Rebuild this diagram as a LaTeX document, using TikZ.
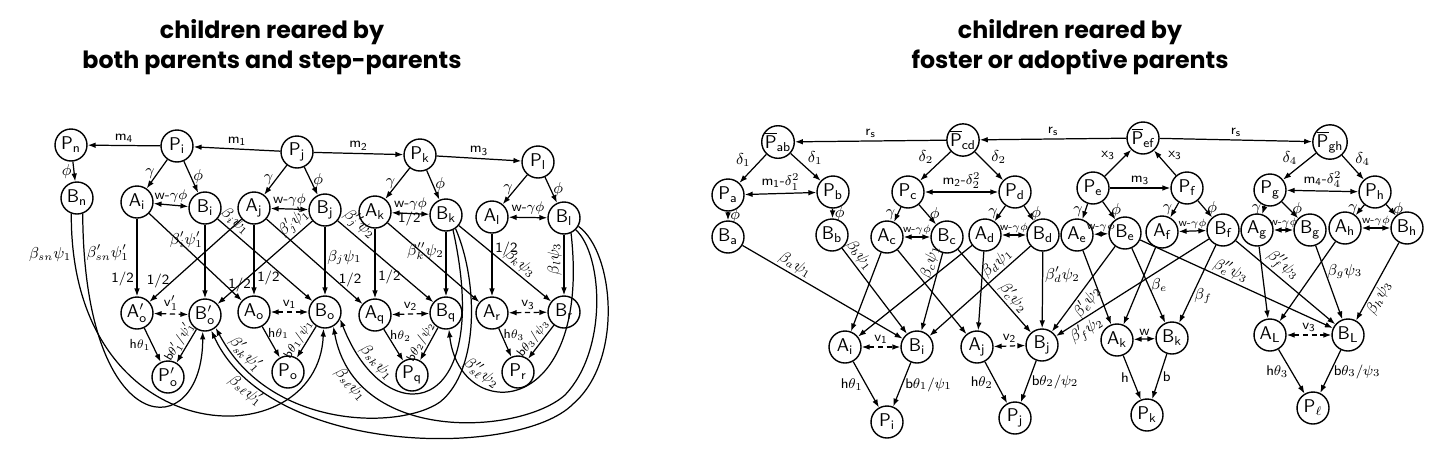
\documentclass[tikz,border=0pt]{standalone}
\usepackage{fontspec}
\newfontfamily\titlefont{Poppins}
\usetikzlibrary{arrows.meta}
\newcommand\sbs[1]{$_{\mathsf{#1}}$}
\newcommand\barP[1]{$\overline{\mathsf P}_{\mathsf{#1}}$}
\begin{document}
\begin{tikzpicture}[x=0.02cm,y=-0.02cm,
  nd/.style={circle,draw,line width=0.8pt,minimum size=0.64cm,inner sep=0pt,font=\sffamily\fontsize{10.5}{12}\selectfont},
  ar/.style={line width=0.7pt,-{Latex[length=4.5pt,width=3.2pt]}},
  dar/.style={line width=0.7pt,{Latex[length=4.5pt,width=3.2pt]}-{Latex[length=4.5pt,width=3.2pt]}},
  ddar/.style={dar,dash pattern=on 3pt off 2pt},
  lb/.style={font=\sffamily\fontsize{8}{9}\selectfont,inner sep=1.5pt},
  hl/.style={font=\sffamily\fontsize{7.5}{8}\selectfont,inner sep=0.8pt},
  sl/.style={font=\sffamily\fontsize{7}{8}\selectfont,inner sep=0.8pt},
  wl/.style={font=\sffamily\fontsize{6.5}{7}\selectfont,inner sep=1pt},
  bl/.style={font=\fontsize{9}{10}\selectfont,inner sep=1pt},
  ttl/.style={font=\titlefont\bfseries\fontsize{13.5}{17}\selectfont,align=center}
]
\useasboundingbox (0,0) rectangle (1456,468);
\node[ttl] (t1) at (272,47) {children reared by\\both parents and step-parents};
\node[ttl] (t2) at (1070,47) {children reared by\\foster or adoptive parents};

% ---------------- left diagram ----------------
\node[nd] (Pn) at (71,145) {P\sbs{n}};
\node[nd] (Pi) at (177,146) {P\sbs{i}};
\node[nd] (Pj) at (297,152) {P\sbs{j}};
\node[nd] (Pk) at (420,155) {P\sbs{k}};
\node[nd] (Pl) at (538,162) {P\sbs{l}};
\node[nd] (Bn) at (77,198) {B\sbs{n}};
\node[nd] (Ai) at (137,202) {A\sbs{i}};
\node[nd] (Bi) at (205,208) {B\sbs{i}};
\node[nd] (Aj) at (254,208) {A\sbs{j}};
\node[nd] (Bj) at (325,210) {B\sbs{j}};
\node[nd] (Ak) at (375,212) {A\sbs{k}};
\node[nd] (Bk) at (446,215) {B\sbs{k}};
\node[nd] (Al) at (492,217) {A\sbs{l}};
\node[nd] (Bl) at (564,218) {B\sbs{l}};
\node[nd] (Aop) at (137,313) {A$'_{\mathsf o}$};
\node[nd] (Bop) at (205,315) {B$'_{\mathsf o}$};
\node[nd] (Ao) at (254,312) {A\sbs{o}};
\node[nd] (Bo) at (325,312) {B\sbs{o}};
\node[nd] (Aq) at (375,315) {A\sbs{q}};
\node[nd] (Bq) at (446,313) {B\sbs{q}};
\node[nd] (Ar) at (492,313) {A\sbs{r}};
\node[nd] (Br) at (564,312) {B\sbs{r}};
\node[nd] (Pop) at (168,377) {P$'_{\mathsf o}$};
\node[nd] (Po) at (288,372) {P\sbs{o}};
\node[nd] (Pq) at (412,375) {P\sbs{q}};
\node[nd] (Pr) at (518,372) {P\sbs{r}};

\draw[ar] (Pi) -- node[lb,above]{m\sbs{4}} (Pn);
\draw[ar] (Pj) -- node[lb,above]{m\sbs{1}} (Pi);
\draw[ar] (Pj) -- node[lb,above]{m\sbs{2}} (Pk);
\draw[ar] (Pk) -- node[lb,above]{m\sbs{3}} (Pl);
\draw[ar] (Pn) -- node[bl,left]{$\phi$} (Bn);
\foreach \p/\a/\b in {Pi/Ai/Bi,Pj/Aj/Bj,Pk/Ak/Bk,Pl/Al/Bl}{
  \draw[ar] (\p) -- node[bl,left]{$\gamma$} (\a);
  \draw[ar] (\p) -- node[bl,right]{$\phi$} (\b);
  \draw[dar] (\a) -- node[lb,above]{w-$\gamma\phi$} (\b);
}
% A lines
\draw[ar] (Ai) -- node[lb,pos=0.78,left]{1/2} (Aop);
\draw[ar] (Ai) -- node[lb,pos=0.82,right]{1/2} (Ao);
\draw[ar] (Aj) -- node[lb,pos=0.75,left]{1/2} (Aop);
\draw[ar] (Aj) -- node[lb,pos=0.75,right]{1/2} (Ao);
\draw[ar] (Aj) -- node[lb,pos=0.72,right]{1/2} (Aq);
\draw[ar] (Ak) -- node[lb,pos=0.7,right]{1/2} (Aq);
\draw[ar] (Ak) -- node[lb,pos=0.08,anchor=south west]{1/2} (Ar);
\draw[ar] (Al) -- node[lb,pos=0.25,right]{1/2} (Ar);
% B lines
\draw[ar] (Bi) -- node[bl,pos=0.2,left]{$\beta'_i\psi'_1$} (Bop);
\draw[ar] (Bi) -- node[bl,pos=0.12,sloped,above]{$\beta_i\psi_1$} (Bo);
\draw[ar] (Bj) -- node[bl,pos=0.12,sloped,above]{$\beta'_j\psi'_1$} (Bop);
\draw[ar] (Bj) -- node[bl,pos=0.45,right]{$\beta_j\psi_1$} (Bo);
\draw[ar] (Bj) -- node[bl,pos=0.15,sloped,above]{$\beta''_j\psi_2$} (Bq);
\draw[ar] (Bk) -- node[bl,pos=0.3,left]{$\beta''_k\psi_2$} (Bq);
\draw[ar] (Bk) -- node[bl,pos=0.6,sloped,above]{$\beta_k\psi_3$} (Br);
\draw[ar] (Bl) -- node[bl,pos=0.4,rotate=90,anchor=south]{$\beta_l\psi_3$} (Br);
% bottom triangles
\draw[ddar] (Aop) -- node[lb,above]{v$'_1$} (Bop);
\draw[ar] (Aop) -- node[hl,left]{h$\theta_1$} (Pop);
\draw[ar] (Bop) -- node[sl,sloped,above]{b$\theta'_1/\psi'_1$} (Pop);
\draw[ddar] (Ao) -- node[lb,above]{v\sbs{1}} (Bo);
\draw[ar] (Ao) -- node[hl,right,pos=0.22]{h$\theta_1$} (Po);
\draw[ar] (Bo) -- node[sl,sloped,above,pos=0.55]{b$\theta_1/\psi_1$} (Po);
\draw[ddar] (Aq) -- node[lb,above]{v\sbs{2}} (Bq);
\draw[ar] (Aq) -- node[hl,right,pos=0.22]{h$\theta_2$} (Pq);
\draw[ar] (Bq) -- node[sl,sloped,above,pos=0.55]{b$\theta_2/\psi_2$} (Pq);
\draw[ddar] (Ar) -- node[lb,above]{v\sbs{3}} (Br);
\draw[ar] (Ar) -- node[hl,right,pos=0.22]{h$\theta_3$} (Pr);
\draw[ar] (Br) -- node[sl,sloped,above,pos=0.55]{b$\theta_3/\psi_3$} (Pr);
% step-parent curves
\draw[ar] (Bn.250) .. controls (70,455) and (318,460) .. node[bl,pos=0.06,left]{$\beta_{sn}\psi_1$} (Bo.265);
\draw[ar] (Bn.290) .. controls (84,445) and (203,445) .. node[bl,pos=0.06,right]{$\beta'_{sn}\psi'_1$} (Bop.262);
\draw[ar] (Bk.295) .. controls (495,420) and (385,435) .. node[bl,pos=0.82,sloped,above]{$\beta_{sk}\psi_1$} (Bo.-25);
\draw[ar] (Bk.305) .. controls (478,280) and (480,370) .. (440,402)
   .. controls (400,430) and (270,430) .. node[bl,pos=0.88,sloped,above]{$\beta'_{sk}\psi'_1$} (Bop.-50);
\draw[ar] (Bl.295) .. controls (592,420) and (460,425) .. node[bl,pos=0.75,sloped,above]{$\beta''_{s\ell}\psi_2$} (Bq.-80);
\draw[ar] (Bl.315) .. controls (603,255) and (608,350) .. (565,395)
   .. controls (520,435) and (355,445) .. node[bl,pos=0.82,sloped,below]{$\beta_{s\ell}\psi_1$} (Bo.-60);
\draw[ar] (Bl.330) .. controls (614,252) and (624,360) .. (573,404)
   .. controls (520,458) and (270,458) .. node[bl,pos=0.84,sloped,below]{$\beta_{s\ell}\psi'_1$} (Bop.-68);

% ---------------- right diagram ----------------
\node[nd] (Pab) at (778,142) {\barP{ab}};
\node[nd] (Pcd) at (963,140) {\barP{cd}};
\node[nd] (Pef) at (1143,138) {\barP{ef}};
\node[nd] (Pgh) at (1330,142) {\barP{gh}};
\node[nd] (Pa) at (728,195) {P\sbs{a}};
\node[nd] (Pb) at (833,192) {P\sbs{b}};
\node[nd] (Pc) at (908,192) {P\sbs{c}};
\node[nd] (Pd) at (1015,192) {P\sbs{d}};
\node[nd] (Pe) at (1093,188) {P\sbs{e}};
\node[nd] (Pf) at (1187,188) {P\sbs{f}};
\node[nd] (Pg) at (1270,190) {P\sbs{g}};
\node[nd] (Ph) at (1375,192) {P\sbs{h}};
\node[nd] (Ba) at (728,237) {B\sbs{a}};
\node[nd] (Bb) at (832,235) {B\sbs{b}};
\node[nd] (Ac) at (887,237) {A\sbs{c}};
\node[nd] (Bc) at (947,237) {B\sbs{c}};
\node[nd] (Ad) at (985,235) {A\sbs{d}};
\node[nd] (Bd) at (1043,235) {B\sbs{d}};
\node[nd] (Ae) at (1077,235) {A\sbs{e}};
\node[nd] (Be) at (1125,233) {B\sbs{e}};
\node[nd] (Af) at (1162,232) {A\sbs{f}};
\node[nd] (Bf) at (1223,230) {B\sbs{f}};
\node[nd] (Ag) at (1257,230) {A\sbs{g}};
\node[nd] (Bg) at (1310,230) {B\sbs{g}};
\node[nd] (Ah) at (1345,228) {A\sbs{h}};
\node[nd] (Bh) at (1407,228) {B\sbs{h}};
\node[nd] (Ri) at (845,347) {A\sbs{i}};
\node[nd] (Si) at (917,347) {B\sbs{i}};
\node[nd] (Rj) at (977,347) {A\sbs{j}};
\node[nd] (Sj) at (1042,345) {B\sbs{j}};
\node[nd] (Rk) at (1117,340) {A\sbs{k}};
\node[nd] (Sk) at (1172,338) {B\sbs{k}};
\node[nd] (Rl) at (1270,335) {A\sbs{L}};
\node[nd] (Sl) at (1348,335) {B\sbs{L}};
\node[nd] (Qi) at (887,422) {P\sbs{i}};
\node[nd] (Qj) at (1015,418) {P\sbs{j}};
\node[nd] (Qk) at (1147,415) {P\sbs{k}};
\node[nd] (Ql) at (1313,408) {P$_\ell$};

\draw[ar] (Pcd) -- node[lb,above]{r\sbs{s}} (Pab);
\draw[ar] (Pef) -- node[lb,above]{r\sbs{s}} (Pcd);
\draw[ar] (Pef) -- node[lb,above]{r\sbs{s}} (Pgh);
\draw[ar] (Pab) -- node[bl,above left]{$\delta_1$} (Pa);
\draw[ar] (Pab) -- node[bl,above right]{$\delta_1$} (Pb);
\draw[dar] (Pa) -- node[lb,above]{m\sbs{1}-$\delta_1^2$} (Pb);
\draw[ar] (Pa) -- node[bl,right]{$\phi$} (Ba);
\draw[ar] (Pb) -- node[bl,right]{$\phi$} (Bb);
\draw[ar] (Pcd) -- node[bl,above left]{$\delta_2$} (Pc);
\draw[ar] (Pcd) -- node[bl,above right]{$\delta_2$} (Pd);
\draw[dar] (Pc) -- node[lb,above]{m\sbs{2}-$\delta_2^2$} (Pd);
\draw[ar] (Pe) -- node[lb,above left]{x\sbs{3}} (Pef);
\draw[ar] (Pf) -- node[lb,above right]{x\sbs{3}} (Pef);
\draw[ar] (Pe) -- node[lb,above]{m\sbs{3}} (Pf);
\draw[ar] (Pgh) -- node[bl,above left]{$\delta_4$} (Pg);
\draw[ar] (Pgh) -- node[bl,above right]{$\delta_4$} (Ph);
\draw[dar] (Pg) -- node[lb,above]{m\sbs{4}-$\delta_4^2$} (Ph);
\foreach \p/\a/\b in {Pc/Ac/Bc,Pd/Ad/Bd,Pe/Ae/Be,Pf/Af/Bf,Pg/Ag/Bg,Ph/Ah/Bh}{
  \draw[ar] (\p) -- node[bl,left]{$\gamma$} (\a);
  \draw[ar] (\p) -- node[bl,right]{$\phi$} (\b);
  \draw[dar] (\a) -- node[wl,above]{w-$\gamma\phi$} (\b);
}
% cross lines
\draw[ar] (Ba) -- node[bl,pos=0.3,sloped,above]{$\beta_a\psi_1$} (Si);
\draw[ar] (Bb) -- node[bl,pos=0.15,sloped,above]{$\beta_b\psi_1$} (Si);
\draw[ar] (Ac) -- (Ri);
\draw[ar] (Ac) -- (Rj);
\draw[ar] (Bc) -- node[bl,pos=0.15,sloped,above]{$\beta_c\psi_1$} (Si);
\draw[ar] (Bc) -- node[bl,pos=0.66,sloped,above]{$\beta'_c\psi_2$} (Sj);
\draw[ar] (Ad) -- (Ri);
\draw[ar] (Ad) -- (Rj);
\draw[ar] (Bd) -- node[bl,pos=0.27,sloped,above]{$\beta_d\psi_1$} (Si);
\draw[ar] (Bd) -- node[bl,pos=0.3,right]{$\beta'_d\psi_2$} (Sj);
\draw[ar] (Be) -- node[bl,pos=0.58,sloped,below]{$\beta'_e\psi_2$} (Sj);
\draw[ar] (Be) -- node[bl,pos=0.5,right]{$\beta_e$} (Sk);
\draw[ar] (Be) -- node[bl,pos=0.45,sloped,above]{$\beta''_e\psi_3$} (Sl);
\draw[ar] (Ae) -- (Rk);
\draw[ar] (Af) -- (Rk);
\draw[ar] (Bf) -- node[bl,pos=0.84,sloped,below]{$\beta'_f\psi_2$} (Sj);
\draw[ar] (Bf) -- node[bl,pos=0.65,right]{$\beta_f$} (Sk);
\draw[ar] (Bf) -- node[bl,pos=0.4,sloped,above]{$\beta''_f\psi_3$} (Sl);
\draw[ar] (Ag) -- (Rl);
\draw[ar] (Ah) -- (Rl);
\draw[ar] (Bg) -- node[bl,pos=0.35,right]{$\beta_g\psi_3$} (Sl);
\draw[ar] (Bh) -- node[bl,pos=0.65,sloped,below]{$\beta_h\psi_3$} (Sl);
% bottom
\draw[ddar] (Ri) -- node[lb,above]{v\sbs{1}} (Si);
\draw[ddar] (Rj) -- node[lb,above]{v\sbs{2}} (Sj);
\draw[dar] (Rk) -- node[lb,above]{w} (Sk);
\draw[ddar] (Rl) -- node[lb,above]{v\sbs{3}} (Sl);
\draw[ar] (Ri) -- node[lb,left]{h$\theta_1$} (Qi);
\draw[ar] (Si) -- node[lb,right]{b$\theta_1/\psi_1$} (Qi);
\draw[ar] (Rj) -- node[lb,left]{h$\theta_2$} (Qj);
\draw[ar] (Sj) -- node[lb,right]{b$\theta_2/\psi_2$} (Qj);
\draw[ar] (Rk) -- node[lb,left]{h} (Qk);
\draw[ar] (Sk) -- node[lb,right]{b} (Qk);
\draw[ar] (Rl) -- node[lb,left]{h$\theta_3$} (Ql);
\draw[ar] (Sl) -- node[lb,right]{b$\theta_3/\psi_3$} (Ql);
\end{tikzpicture}
\end{document}
